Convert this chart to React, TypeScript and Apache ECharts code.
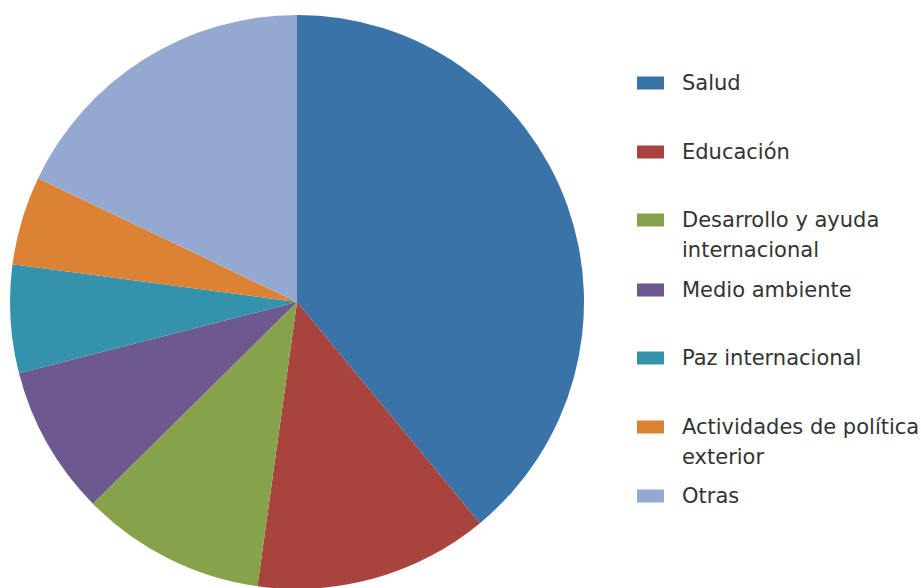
import React, { useEffect, useRef } from "react";
import * as echarts from "echarts";

const categories = [
  "Salud",
  "Educación",
  "Desarrollo y ayuda internacional",
  "Medio ambiente",
  "Paz internacional",
  "Actividades de política exterior",
  "Otras",
];
const values = [39.0, 13.2, 10.4, 8.4, 6.1, 5.0, 17.9];
const colors = ["#3A73A8", "#A8433E", "#86A24A", "#6E5890", "#3592AD", "#DC8235", "#93A9D1"];
const legendLines = [
  ["Salud"],
  ["Educación"],
  ["Desarrollo y ayuda", "internacional"],
  ["Medio ambiente"],
  ["Paz internacional"],
  ["Actividades de política", "exterior"],
  ["Otras"],
];
const legendCenters = [83, 152, 220, 290, 358, 427, 496];

export default function App() {
  const ref = useRef<HTMLDivElement>(null);
  useEffect(() => {
    document.body.style.margin = "0";
    const chart = echarts.init(ref.current!, undefined, { renderer: "svg" });
    const legends = categories.map((name, i) => {
      const lines = legendLines[i];
      const text = lines.length > 1 ? " \n" + lines.join("\n") : lines[0];
      const h = lines.length > 1 ? 90 : 30;
      return {
        orient: "vertical",
        left: 637,
        top: legendCenters[i] - h / 2,
        padding: 0,
        itemWidth: 27,
        itemHeight: 13,
        icon: "rect",
        data: [name],
        formatter: () => text,
        textStyle: {
          fontFamily: "DejaVu Sans",
          fontSize: 21,
          lineHeight: 30,
          color: "#333333",
          padding: [0, 0, 0, 13],
        },
      };
    });
    chart.setOption({
      animation: false,
      color: colors,
      legend: legends,
      series: [
        {
          type: "pie",
          center: [297, 302],
          radius: 287,
          startAngle: 90,
          clockwise: true,
          label: { show: false },
          labelLine: { show: false },
          itemStyle: { borderWidth: 0 },
          emphasis: { scale: false },
          data: categories.map((name, i) => ({ name, value: values[i] })),
        },
      ],
    });
    return () => chart.dispose();
  }, []);
  return <div ref={ref} style={{ width: 921, height: 588 }} />;
}
